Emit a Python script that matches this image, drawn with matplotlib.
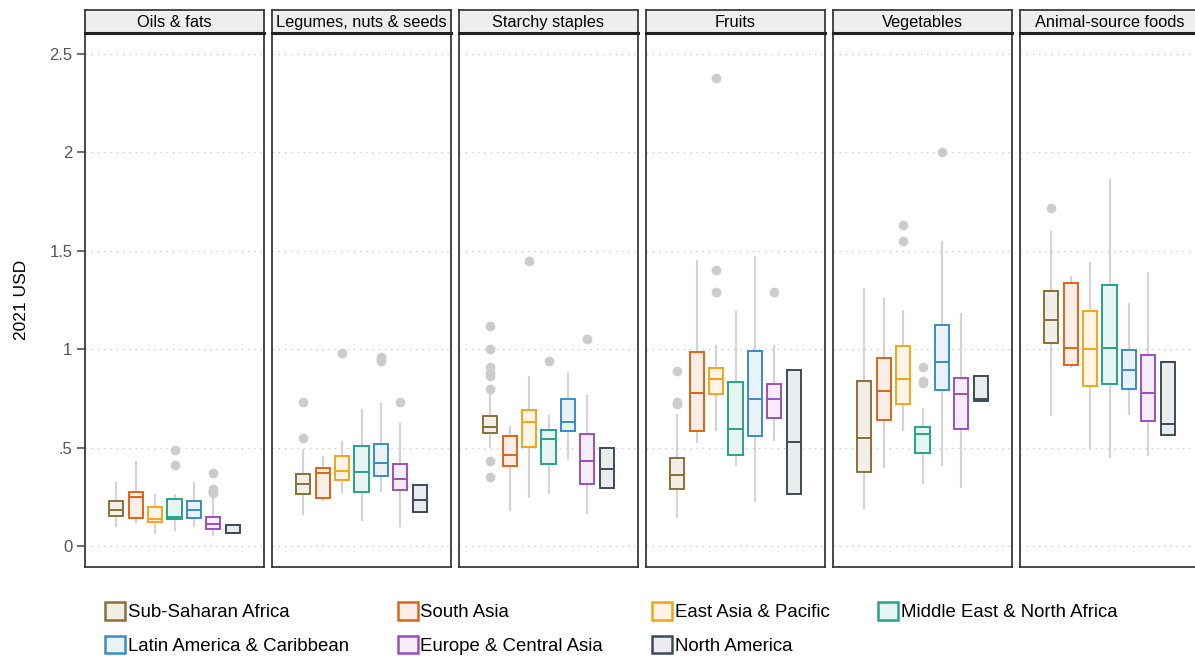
import numpy as np
import matplotlib
matplotlib.use("Agg")
import matplotlib.pyplot as plt
from matplotlib.patches import Patch
from matplotlib.colors import to_rgb

plt.rcParams['font.family'] = ['Liberation Sans', 'DejaVu Sans']

# Food groups (panels) and regions (boxes within each panel)
food_groups = ['Oils & fats', 'Legumes, nuts & seeds', 'Starchy staples',
               'Fruits', 'Vegetables', 'Animal-source foods']
regions = ['Sub-Saharan Africa', 'South Asia', 'East Asia & Pacific',
           'Middle East & North Africa', 'Latin America & Caribbean',
           'Europe & Central Asia', 'North America']
region_colors = ['#8a7037', '#dd6418', '#f7a21b', '#26a388',
                 '#3a8cc9', '#9b4fbf', '#3d4a5c']

# Box statistics, one row per food group, one value per region (2021 USD)
q1 = [
    [0.154, 0.144, 0.124, 0.136, 0.144, 0.085, 0.066],
    [0.265, 0.244, 0.334, 0.273, 0.355, 0.283, 0.173],
    [0.575, 0.407, 0.505, 0.414, 0.585, 0.314, 0.293],
    [0.291, 0.582, 0.771, 0.462, 0.558, 0.651, 0.262],
    [0.374, 0.641, 0.722, 0.474, 0.794, 0.592, 0.739],
    [1.032, 0.922, 0.812, 0.822, 0.800, 0.633, 0.563],
]
median = [
    [0.182, 0.251, 0.139, 0.149, 0.182, 0.110, 0.066],
    [0.314, 0.373, 0.381, 0.376, 0.421, 0.341, 0.232],
    [0.602, 0.463, 0.632, 0.543, 0.632, 0.432, 0.390],
    [0.361, 0.777, 0.851, 0.594, 0.745, 0.748, 0.529],
    [0.548, 0.788, 0.851, 0.567, 0.934, 0.770, 0.745],
    [1.149, 1.008, 1.000, 1.005, 0.895, 0.778, 0.621],
]
q3 = [
    [0.229, 0.276, 0.198, 0.237, 0.227, 0.146, 0.105],
    [0.366, 0.397, 0.458, 0.509, 0.517, 0.417, 0.309],
    [0.660, 0.560, 0.690, 0.590, 0.746, 0.568, 0.500],
    [0.445, 0.985, 0.906, 0.834, 0.990, 0.825, 0.894],
    [0.836, 0.954, 1.015, 0.604, 1.125, 0.854, 0.865],
    [1.294, 1.335, 1.195, 1.327, 0.997, 0.973, 0.934],
]
whisker_lo = [
    [0.100, 0.124, 0.065, 0.081, 0.103, 0.056, 0.066],
    [0.164, 0.234, 0.273, 0.132, 0.281, 0.102, 0.173],
    [0.505, 0.183, 0.251, 0.271, 0.444, 0.166, 0.293],
    [0.149, 0.526, 0.589, 0.409, 0.229, 0.539, 0.262],
    [0.193, 0.401, 0.591, 0.320, 0.409, 0.300, 0.739],
    [0.663, 0.912, 0.491, 0.452, 0.672, 0.460, 0.563],
]
whisker_hi = [
    [0.320, 0.429, 0.260, 0.260, 0.320, 0.239, 0.105],
    [0.488, 0.451, 0.529, 0.690, 0.721, 0.619, 0.309],
    [0.771, 0.602, 0.861, 0.660, 0.880, 0.760, 0.500],
    [0.668, 1.447, 1.017, 1.188, 1.467, 1.017, 0.894],
    [1.306, 1.257, 1.196, 0.697, 1.547, 1.178, 0.865],
    [1.597, 1.365, 1.437, 1.858, 1.228, 1.387, 0.934],
]
outliers = [
    [[], [], [], [0.49, 0.41], [], [0.37, 0.29, 0.28, 0.27], []],
    [[0.73, 0.55], [], [0.98], [], [0.96, 0.95, 0.94], [0.73], []],
    [[1.12, 1.00, 0.91, 0.88, 0.865, 0.80, 0.43, 0.35], [], [1.45], [0.94], [], [1.05], []],
    [[0.89, 0.73, 0.72], [], [2.38, 1.40, 1.29], [], [], [1.29], []],
    [[], [], [1.63, 1.55], [0.91, 0.84, 0.83], [2.00], [], []],
    [[1.72], [], [], [], [], [], []],
]

yticks = [0, 0.5, 1, 1.5, 2, 2.5]
ytick_labels = ['0', '.5', '1', '1.5', '2', '2.5']

W, H = 1195, 656
fig = plt.figure(figsize=(W / 100, H / 100), dpi=100)


def px_box(left, top, width, height):
    return [left / W, 1 - (top + height) / H, width / W, height / H]


def tint(c, amount=0.11):
    r, g, b = to_rgb(c)
    return (1 - amount + amount * r, 1 - amount + amount * g, 1 - amount + amount * b)


frame_color = '#3a3a3a'
panel_lefts = [85, 272, 459, 646, 833, 1020]
panel_w = 179
body_top, body_h = 33, 534
strip_top, strip_h = 10, 23

for i, group in enumerate(food_groups):
    left = panel_lefts[i]
    ax = fig.add_axes(px_box(left, body_top, panel_w, body_h))
    stats = []
    for j in range(len(regions)):
        stats.append(dict(med=median[i][j], q1=q1[i][j], q3=q3[i][j],
                          whislo=whisker_lo[i][j], whishi=whisker_hi[i][j],
                          fliers=outliers[i][j]))
    art = ax.bxp(stats, positions=np.arange(1, 8), widths=0.72,
                 patch_artist=True, showcaps=False,
                 whiskerprops=dict(color='#d4d4d4', linewidth=1.6),
                 flierprops=dict(marker='o', markerfacecolor='#cccccc',
                                 markeredgecolor='none', markersize=7),
                 medianprops=dict(linewidth=1.4),
                 boxprops=dict(linewidth=1.4))
    for box, med, c in zip(art['boxes'], art['medians'], region_colors):
        box.set_facecolor(tint(c))
        box.set_edgecolor(c)
        box.set_zorder(3)
        med.set_color(c)
        med.set_zorder(4)

    ax.set_xlim(-0.6, 8.6)
    ax.set_ylim(-0.107, 2.607)
    ax.set_yticks(yticks)
    ax.yaxis.grid(True, linestyle=(0, (1, 4)), color='#c4c4c4', linewidth=0.9)
    ax.set_axisbelow(True)
    ax.set_xticks([])
    for sp in ax.spines.values():
        sp.set_color(frame_color)
        sp.set_linewidth(1.3)
    if i == 0:
        ax.set_yticklabels(ytick_labels, fontsize=12, color='#555555')
        ax.tick_params(axis='y', length=6, width=1.2, color='#555555', pad=3)
        ax.set_ylabel('2021 USD', fontsize=12.5, labelpad=15)
    else:
        ax.tick_params(axis='y', length=0, labelleft=False)

    sax = fig.add_axes(px_box(left, strip_top, panel_w, strip_h))
    sax.set_facecolor('#eeeeee')
    sax.set_xticks([])
    sax.set_yticks([])
    for sp in sax.spines.values():
        sp.set_color(frame_color)
        sp.set_linewidth(1.3)
    sax.spines['bottom'].set_linewidth(2.2)
    sax.spines['bottom'].set_color('#222222')
    sax.text(0.5, 0.45, group, ha='center', va='center', fontsize=11.8,
             transform=sax.transAxes)

# Legend: regions laid out in two rows of four columns
order = [0, 4, 1, 5, 2, 6, 3]
handles = [Patch(facecolor=tint(region_colors[k]), edgecolor=region_colors[k],
                 linewidth=1.8, label=regions[k]) for k in order]
fig.legend(handles=handles, ncol=4, loc='upper left',
           bbox_to_anchor=(105 / W, 1 - 602 / H), frameon=False,
           fontsize=13.4, handlelength=1.07, handleheight=1.07,
           handletextpad=0.15, columnspacing=2.62, labelspacing=0.8,
           borderaxespad=0, borderpad=0)

fig.savefig('out.png', dpi=100)
